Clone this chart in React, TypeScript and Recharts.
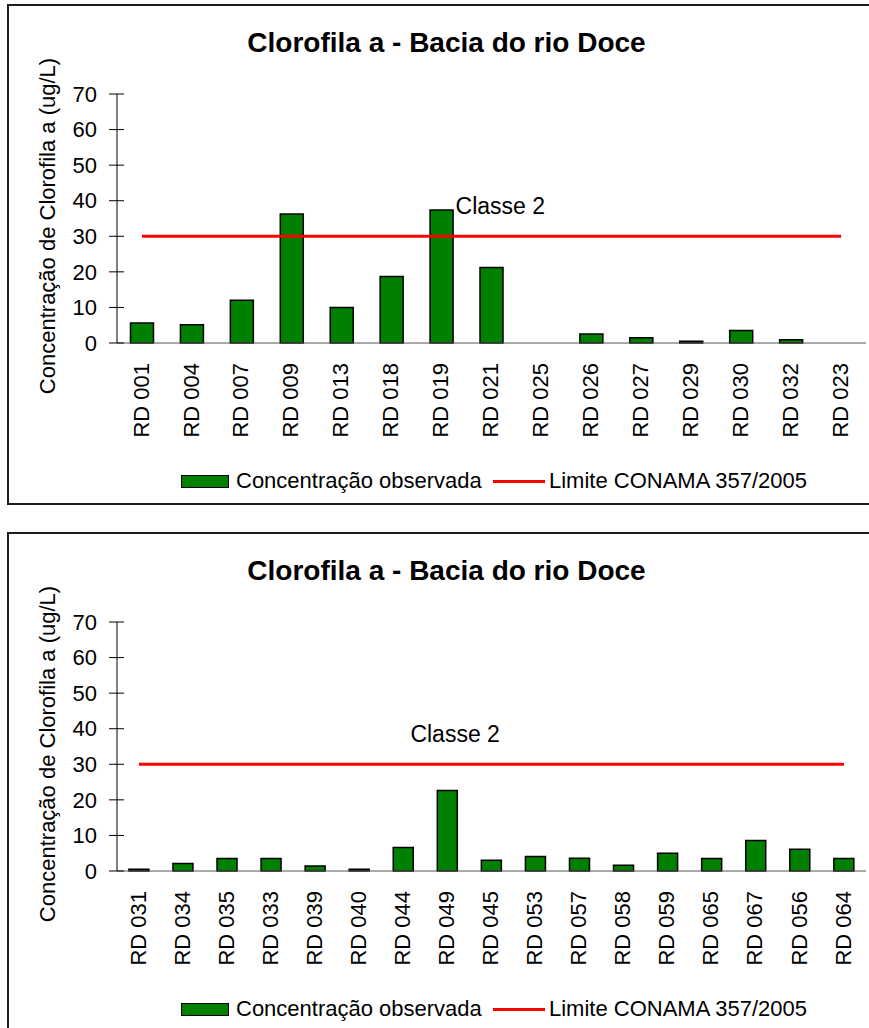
import React from 'react';
import { ComposedChart, Bar, Line, XAxis, YAxis, Legend } from 'recharts';

const categories1 = ['RD 001', 'RD 004', 'RD 007', 'RD 009', 'RD 013', 'RD 018', 'RD 019', 'RD 021', 'RD 025', 'RD 026', 'RD 027', 'RD 029', 'RD 030', 'RD 032', 'RD 023'];
const values1 = [5.6, 5.1, 12.0, 36.3, 10.0, 18.7, 37.4, 21.2, 0, 2.5, 1.5, 0.5, 3.5, 0.9, 0];

const categories2 = ['RD 031', 'RD 034', 'RD 035', 'RD 033', 'RD 039', 'RD 040', 'RD 044', 'RD 049', 'RD 045', 'RD 053', 'RD 057', 'RD 058', 'RD 059', 'RD 065', 'RD 067', 'RD 056', 'RD 064'];
const values2 = [0.5, 2.1, 3.5, 3.5, 1.4, 0.5, 6.6, 22.6, 3.0, 4.1, 3.6, 1.6, 5.0, 3.5, 8.6, 6.1, 3.5];

const limitValue = 30;
const yTicks = [0, 10, 20, 30, 40, 50, 60, 70];
const titleText = 'Clorofila a - Bacia do rio Doce';
const yLabelText = 'Concentração de Clorofila a (ug/L)';
const barName = 'Concentração observada';
const lineName = 'Limite CONAMA 357/2005';
const classLabel = 'Classe 2';

const FONT = "'Liberation Sans', Arial, sans-serif";
const GREEN = '#008000';
const RED = '#ff0000';
const W = 869;
const H = 505;

const YTick = (props: any) => {
  const { x, y, payload } = props;
  return (
    <g>
      <line x1={x - 8} x2={x + 7} y1={y} y2={y} stroke="#000" strokeWidth={1} />
      <text x={x - 20} y={y} dy="0.35em" textAnchor="end" fontSize={22} fontFamily={FONT} fill="#000">
        {payload.value}
      </text>
    </g>
  );
};

const XTick = (props: any) => {
  const { x, y, payload } = props;
  return (
    <text
      x={0}
      y={0}
      transform={`translate(${x},${y + 20}) rotate(-90)`}
      textAnchor="end"
      dy="0.3em"
      fontSize={22}
      fontFamily={FONT}
      fill="#000"
    >
      {payload.value}
    </text>
  );
};

const YTitle = () => (
  <text
    x={0}
    y={0}
    transform="translate(55,226) rotate(-90)"
    textAnchor="middle"
    fontSize={22}
    fontFamily={FONT}
    fill="#000"
  >
    {yLabelText}
  </text>
);

const LegendContent = () => (
  <div style={{ position: 'relative', height: 24, fontFamily: FONT, fontSize: 22, color: '#000' }}>
    <div
      style={{
        position: 'absolute',
        left: 181,
        top: 6,
        width: 48,
        height: 13,
        boxSizing: 'border-box',
        background: GREEN,
        border: '1.5px solid #000',
      }}
    />
    <span style={{ position: 'absolute', left: 236, top: 0, lineHeight: '24px', whiteSpace: 'nowrap' }}>{barName}</span>
    <div style={{ position: 'absolute', left: 493, top: 11, width: 52, height: 3, background: RED }} />
    <span style={{ position: 'absolute', left: 549, top: 0, lineHeight: '24px', whiteSpace: 'nowrap' }}>{lineName}</span>
  </div>
);

type ChartProps = {
  categories: string[];
  values: number[];
  labelIndex: number;
  labelDx: number;
  top: number;
};

const ChartPanel = ({ categories, values, labelIndex, labelDx, top }: ChartProps) => {
  const data = categories.map((c, i) => ({ name: c, value: values[i], limit: limitValue }));
  const renderDot = (p: any) => {
    const { cx, cy, index } = p;
    if (index === labelIndex) {
      return (
        <text
          key={`lbl-${index}`}
          x={cx + labelDx}
          y={cy - 30}
          dy="0.35em"
          fontSize={23}
          fontFamily={FONT}
          fill="#000"
        >
          {classLabel}
        </text>
      );
    }
    return <g key={`d-${index}`} />;
  };
  return (
    <div style={{ position: 'absolute', left: 0, top, width: W, height: H }}>
      <div
        style={{
          position: 'absolute',
          left: 7,
          top: 4,
          width: 880,
          height: 501,
          boxSizing: 'border-box',
          border: '2px solid #1e1e1e',
          background: '#fff',
        }}
      />
      <div
        style={{
          position: 'absolute',
          left: 0,
          top: 29,
          width: 893,
          textAlign: 'center',
          fontFamily: FONT,
          fontSize: 28,
          lineHeight: '28px',
          fontWeight: 'bold',
          color: '#000',
          whiteSpace: 'nowrap',
        }}
      >
        {titleText}
      </div>
      <div style={{ position: 'absolute', left: 0, top: 0 }}>
        <ComposedChart
          width={W}
          height={H}
          data={data}
          margin={{ top: 94, right: 3, bottom: 12, left: 0 }}
          barCategoryGap="27%"
        >
          <XAxis
            dataKey="name"
            interval={0}
            height={126}
            tickLine={false}
            tickSize={0}
            tickMargin={0}
            axisLine={{ stroke: '#555', strokeWidth: 1 }}
            tick={<XTick />}
          />
          <YAxis
            domain={[0, 70]}
            ticks={yTicks}
            interval={0}
            width={117}
            tickLine={false}
            tickSize={0}
            tickMargin={0}
            axisLine={{ stroke: '#000', strokeWidth: 1 }}
            tick={<YTick />}
            label={<YTitle />}
          />
          <Legend verticalAlign="bottom" content={<LegendContent />} />
          <Bar
            dataKey="value"
            name={barName}
            fill={GREEN}
            stroke="#000"
            strokeWidth={1.5}
            isAnimationActive={false}
          />
          <Line
            dataKey="limit"
            name={lineName}
            type="linear"
            stroke={RED}
            strokeWidth={3}
            dot={renderDot}
            activeDot={false}
            isAnimationActive={false}
          />
        </ComposedChart>
      </div>
    </div>
  );
};

export default function App() {
  return (
    <div
      style={{
        position: 'absolute',
        left: 0,
        top: 0,
        width: 869,
        height: 1028,
        overflow: 'hidden',
        background: '#fff',
      }}
    >
      <ChartPanel categories={categories1} values={values1} labelIndex={6} labelDx={14} top={0} />
      <ChartPanel categories={categories2} values={values2} labelIndex={6} labelDx={7} top={528} />
    </div>
  );
}
